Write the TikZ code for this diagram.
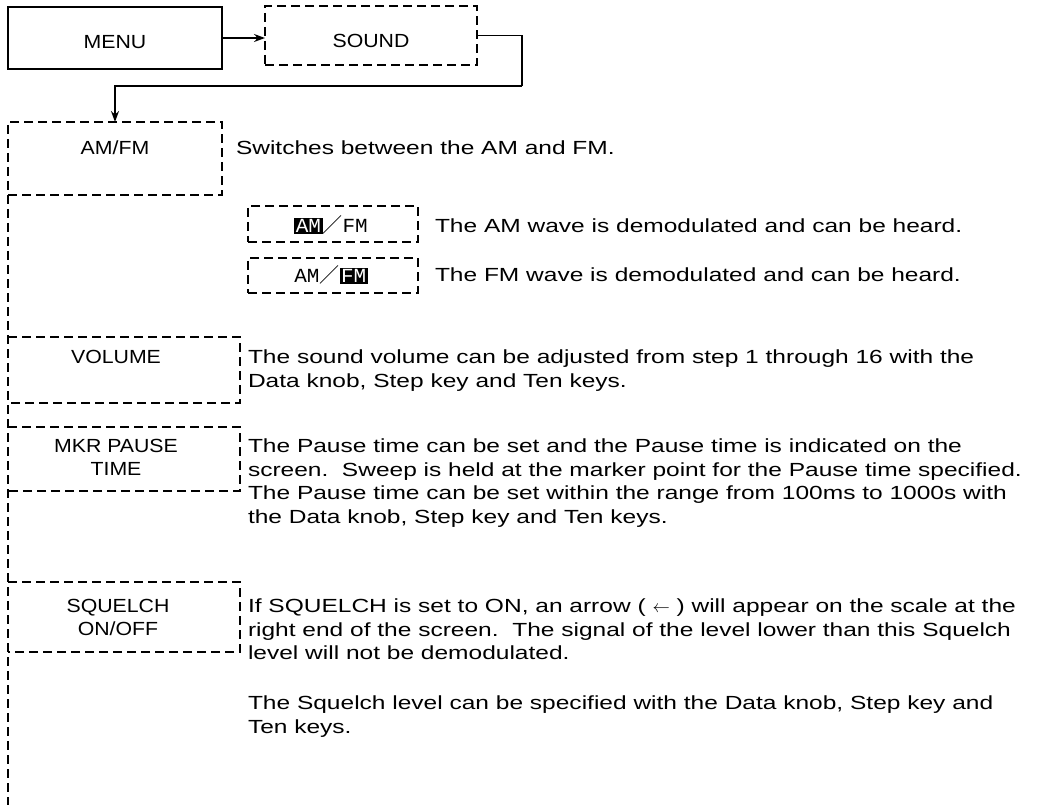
\documentclass[tikz,border=0pt]{standalone}
\usepackage{fontspec}
\setmainfont{Liberation Sans}
\newfontfamily\descfont{Liberation Sans}[FakeStretch=1.29]
\newfontfamily\lblfont{Liberation Sans}[FakeStretch=1.12]
\newfontfamily\monof{Liberation Mono}[FakeStretch=1.05]
\newfontfamily\cjkf{Noto Sans CJK JP}
\usetikzlibrary{arrows.meta}
\begin{document}
\begin{tikzpicture}[x=1pt,y=-1pt,
  every node/.style={inner sep=0pt, outer sep=0pt},
  solidbox/.style={draw, line width=1.5pt, anchor=north west},
  dashbox/.style={draw, line width=1.4pt, dash pattern=on 9pt off 5pt, anchor=north west},
  openbox/.style={anchor=north west},
  dsh/.style={line width=1.4pt, dash pattern=on 9pt off 5pt},
  conn/.style={line width=1.5pt, -{Stealth[length=11pt,width=8pt]}},
  conn2/.style={line width=1.5pt},
  lbl/.style={font=\lblfont\fontsize{19}{23.5}\selectfont, align=center},
  desc/.style={font=\descfont\fontsize{19}{23.5}\selectfont, align=left, anchor=north west},
  hl/.style={font=\monof\fontsize{20}{22}\selectfont}
]
\useasboundingbox (0,0) rectangle (1039,805);

% top row
\node[solidbox, minimum width=214pt, minimum height=62pt] (menu) at (8,7) {};
\node[lbl] (menut) at (115,42) {MENU};
\node[dashbox, minimum width=212pt, minimum height=59pt] (sound) at (265,6) {};
\node[lbl] (soundt) at (371,41) {SOUND};
\draw[conn] (menu.east) -- (menu.east -| sound.west);
\coordinate (turn) at (522,86);

% AM/FM box
\node[dashbox, minimum width=214pt, minimum height=73pt] (amfm) at (8,122) {};
\node[lbl] (amfmt) at (115,148) {AM/FM};
\draw[conn2] (sound.east) -| (turn);
\draw[conn] (turn) -| (amfm.north);
\node[desc] (amfmd) at (236,141) {Switches between the AM and FM.};

% sub boxes
\node[dashbox, minimum width=170pt, minimum height=36pt] (am) at (248,206) {};
\node[hl] (amt) at (331,225) {{\setlength{\fboxsep}{1.5pt}\colorbox{black}{\textcolor{white}{AM}}}{\cjkf／}FM};
\node[desc] (amd) at (435,219) {The AM wave is demodulated and can be heard.};
\node[dashbox, minimum width=170pt, minimum height=35pt] (fm) at (248,258) {};
\node[hl] (fmt) at (331,275) {AM{\cjkf／}{\setlength{\fboxsep}{1.5pt}\colorbox{black}{\textcolor{white}{FM}}}};
\node[desc] (fmd) at (435,268) {The FM wave is demodulated and can be heard.};

% main dashed line
\coordinate (bot) at (8,805);
\draw[dsh] (amfm.south west) -- (bot);

% VOLUME
\node[openbox, minimum width=232pt, minimum height=66pt] (vol) at (8,337) {};
\draw[dsh] (vol.north west) -- (vol.north east) -- (vol.south east) -- (vol.south west);
\node[lbl] (volt) at (116,357) {VOLUME};
\node[desc] (vold) at (248,350) {The sound volume can be adjusted from step 1 through 16 with the\\Data knob, Step key and Ten keys.};

% MKR PAUSE TIME
\node[openbox, minimum width=232pt, minimum height=64pt] (mkr) at (8,427) {};
\draw[dsh] (mkr.north west) -- (mkr.north east) -- (mkr.south east) -- (mkr.south west);
\node[lbl, anchor=north] (mkrt) at (116,439) {MKR PAUSE\\TIME};
\node[desc] (mkrd) at (248,439) {The Pause time can be set and the Pause time is indicated on the\\screen.\ \ Sweep is held at the marker point for the Pause time specified.\\The Pause time can be set within the range from 100ms to 1000s with\\the Data knob, Step key and Ten keys.};

% SQUELCH
\node[openbox, minimum width=232pt, minimum height=70pt] (sq) at (8,582) {};
\draw[dsh] (sq.north west) -- (sq.north east) -- (sq.south east) -- (sq.south west);
\node[lbl, anchor=north] (sqt) at (118,599) {SQUELCH\\ON/OFF};
\node[desc] (sqd) at (248,599) {If SQUELCH is set to ON, an arrow ( $\leftarrow$ ) will appear on the scale at the\\right end of the screen.\ \ The signal of the level lower than this Squelch\\level will not be demodulated.};
\node[desc] (sqd2) at (248,696) {The Squelch level can be specified with the Data knob, Step key and\\Ten keys.};
\end{tikzpicture}
\end{document}
